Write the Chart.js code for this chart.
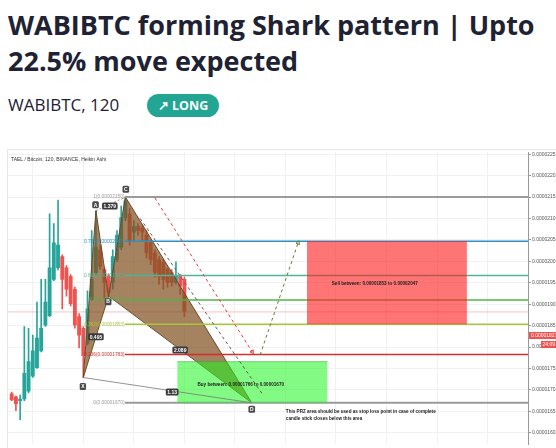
<!DOCTYPE html>
<html><head><meta charset="utf-8">
<script src="https://cdn.jsdelivr.net/npm/chart.js@4.4.0/dist/chart.umd.min.js"></script>
<style>
html,body{margin:0;padding:0;background:#fff;width:556px;height:448px;overflow:hidden}
body{position:relative;font-family:"Open Sans",sans-serif;color:#131722}
h1{position:absolute;left:8px;top:7px;margin:0;font-size:27px;line-height:36px;font-weight:700;white-space:nowrap;color:#1e2233}
.sub{position:absolute;left:8px;top:93px;font-size:17px;line-height:24px;color:#1e2233}
.pill{position:absolute;left:147px;top:94px;width:72px;height:23px;border-radius:12px;background:#22a592;color:#fff;font-size:12.5px;font-weight:700;line-height:23px;text-align:center}
#frame{position:absolute;left:7px;top:149px;width:600px;height:400px;border:1px solid #e6e6e6}
#wrap{position:absolute;left:0;top:148px;width:556px;height:300px}
</style></head><body>
<h1>WABIBTC forming Shark pattern | Upto<br>22.5% move expected</h1>
<div class="sub">WABIBTC, 120</div>
<div class="pill">&#8599; LONG</div>
<div id="frame"></div>
<div id="wrap"><canvas id="c"></canvas></div>
<script>
// prices in satoshi (1e-8 BTC), x in bar index
const candleOpen  = [1691,1684,1675,1679,1697,1732,1752,1791,1851,1873,1958,1985,2011,1985,1965,1935,1871,1844,1809,1912,1974,2027,1981,1965,1951,2004,2033,2102,2111,2068,2081,2077,2061,2043,2020,2004,1997,1981,1974,1951,1965,1958];
const candleHigh  = [1695,1686,1688,1848,1844,1828,1905,1958,1958,2111,2088,2143,2015,1990,1969,1940,1878,1848,1931,2072,2118,2038,1985,1969,2027,2072,2129,2150,2123,2095,2088,2084,2072,2049,2027,2011,2004,1985,1981,1999,1969,1963];
const candleLow   = [1675,1652,1631,1675,1693,1729,1750,1789,1848,1871,1955,1980,1889,1919,1896,1844,1798,1729,1805,1908,1969,1981,1912,1919,1935,1999,2027,2095,2038,2049,2061,2049,2008,1992,1963,1947,1935,1940,1942,1947,1923,1871];
const candleClose = [1677,1668,1679,1739,1766,1791,1821,1844,1905,1985,2043,2038,1958,1935,1901,1851,1828,1780,1889,1958,2033,1988,1951,1928,2011,2061,2102,2141,2049,2081,2072,2068,2020,2004,1974,1965,1958,1951,1951,1965,1942,1883];

const pointNames = ["X", "A", "B", "C", "D"];
const pointBar   = [18, 21, 24, 28, 58];
const pointPrice = [1729, 2118, 1919, 2150, 1670];

const fibLevels = ["1", "0.786", "0.618", "0.5", "0.382", "0.236", "0"];
const fibPrices = [2150, 2047, 1967, 1910, 1853, 1783, 1670];
const fibStart = 27.9, fibEnd = 123.6;

const sellZone = [1853, 2047], sellBars = [71.1, 109.1];
const buyZone = [1670, 1766], buyBars = [40.3, 76.0];
const lastPrice = 1827, priceLine = 1882;

const redArrow = [[35.0, 2148], [58.1, 1789]];
const grayDash = [[31.5, 2100], [60.7, 1688]];
const greenArrow = [[60.0, 1782], [69.0, 2043]];

const ratioText = ["1.379", "0.495", "2.089", "1.13"];
const ratioAt = [[24.3, 2129], [21.0, 1824], [41.0, 1793], [39.1, 1695]];
const nameAt = [[17.9, 1708], [20.9, 2132], [23.9, 1906], [28.1, 2168], [58.0, 1655]];

const fibColors = ["#9a9a9a", "#2f8fbf", "#4db699", "#52b548", "#a6c83a", "#d32f2f", "#9a9a9a"];
const UP = "#26a69a", DN = "#ef5350", BROWN = "rgba(130,82,34,0.72)", BROWN_EDGE = "#6b4a2c";

const fmt = v => (v / 1e8).toFixed(8);
const pt = i => ({ x: pointBar[i], y: pointPrice[i] });
const seg = a => a.map(p => ({ x: p[0], y: p[1] }));
const flat = { type: "line", pointRadius: 0, pointHoverRadius: 0, borderWidth: 1, tension: 0 };

const candleCol = candleOpen.map((o, i) => candleClose[i] >= o ? UP : DN);

function arrowHead(ctx) {
  const ds = ctx.chart.data.datasets[ctx.datasetIndex].data, sx = ctx.chart.scales.x, sy = ctx.chart.scales.y;
  const a = ds[0], b = ds[ds.length - 1];
  const ang = Math.atan2(sy.getPixelForValue(b.y) - sy.getPixelForValue(a.y), sx.getPixelForValue(b.x) - sx.getPixelForValue(a.x));
  return ang * 180 / Math.PI + 90;
}

const datasets = [
  { ...flat, data: [{ x: 0, y: priceLine }, { x: fibEnd, y: priceLine }], borderColor: "rgba(239,83,80,0.35)", order: 20 },
  { type: "bar", grouped: false, barThickness: 1, order: 12, backgroundColor: candleCol,
    data: candleLow.map((l, i) => ({ x: i + 1, y: [l, candleHigh[i]] })) },
  { type: "bar", grouped: false, barThickness: 3.2, order: 11, backgroundColor: candleCol,
    data: candleOpen.map((o, i) => ({ x: i + 1, y: [o, candleClose[i]] })) },
  { ...flat, data: [pt(0), pt(1), pt(2)], fill: "+1", backgroundColor: BROWN, borderColor: BROWN_EDGE, order: 8 },
  { ...flat, data: [pt(0), pt(2)], borderColor: BROWN_EDGE, order: 8 },
  { ...flat, data: [pt(2), pt(3), pt(4)], fill: "+1", backgroundColor: BROWN, borderColor: BROWN_EDGE, order: 8 },
  { ...flat, data: [pt(2), pt(4)], borderColor: BROWN_EDGE, order: 8 },
  ...fibPrices.map((p, i) => ({ ...flat, data: [{ x: fibStart, y: p }, { x: fibEnd, y: p }], borderColor: fibColors[i],
    borderWidth: (i === 0 || i === 6) ? 2 : 1.5, order: 6 })),
  { ...flat, data: [{ x: sellBars[0], y: sellZone[1] }, { x: sellBars[1], y: sellZone[1] }], fill: { value: sellZone[0] },
    backgroundColor: "rgba(255,25,25,0.6)", borderColor: "transparent", order: 5 },
  { ...flat, data: [{ x: buyBars[0], y: buyZone[1] }, { x: buyBars[1], y: buyZone[1] }], fill: { value: buyZone[0] },
    backgroundColor: "rgba(30,245,30,0.55)", borderColor: "rgba(60,170,60,0.6)", order: 5 },
  { ...flat, data: seg(redArrow), borderColor: "#e53935", borderDash: [3, 3], order: 4,
    pointRadius: [0, 2.2], pointStyle: "triangle", pointRotation: arrowHead, pointBorderColor: "#e53935", pointBackgroundColor: "rgba(0,0,0,0)" },
  { ...flat, data: seg(grayDash), borderColor: "#5a5a5a", borderDash: [3, 3], order: 4 },
  { ...flat, data: seg(greenArrow), borderColor: "#5e7d3a", borderDash: [3, 3], order: 4,
    pointRadius: [0, 2.2], pointStyle: "triangle", pointRotation: arrowHead, pointBorderColor: "#5e7d3a", pointBackgroundColor: "rgba(0,0,0,0)" },
  { ...flat, data: [pt(0), pt(4)], borderColor: "#777", borderWidth: 0.8, order: 3 },
  { ...flat, data: [pt(1), pt(3)], borderColor: "#777", borderWidth: 0.8, borderDash: [2, 2], order: 3 }
];

function box(ctx, cx, cy, text, bg, fg) {
  const w = ctx.measureText(text).width + 3, h = 7;
  ctx.fillStyle = bg; ctx.beginPath(); ctx.roundRect(cx - w / 2, cy - h / 2, w, h, 1.5); ctx.fill();
  ctx.fillStyle = fg; ctx.textAlign = "center"; ctx.textBaseline = "middle"; ctx.fillText(text, cx, cy + 0.4);
}

const notes = {
  id: "notes",
  afterDatasetsDraw(chart) {
    const { ctx, chartArea, scales: { x, y } } = chart;
    ctx.save();
    ctx.font = "5px 'Liberation Sans'"; ctx.fillStyle = "#333"; ctx.textAlign = "left"; ctx.textBaseline = "middle";
    ctx.fillText("TAEL / Bitcoin, 120, BINANCE, Heikin Ashi", chartArea.left + 3.5, chartArea.top + 8);
    // fib labels
    ctx.font = "4.8px 'Liberation Sans'"; ctx.textAlign = "right";
    fibPrices.forEach((p, i) => {
      ctx.fillStyle = fibColors[i];
      ctx.fillText(`${fibLevels[i]}(${fmt(p)})`, x.getPixelForValue(fibStart) - 0.5, y.getPixelForValue(p));
    });
    // zone texts
    ctx.font = "bold 4.6px 'Liberation Sans'"; ctx.fillStyle = "#222"; ctx.textAlign = "left";
    ctx.fillText(`Sell between: ${fmt(sellZone[0])} to ${fmt(sellZone[1])}`, x.getPixelForValue(77.0), y.getPixelForValue(1947));
    ctx.fillText(`Buy between: ${fmt(buyZone[1])} to ${fmt(buyZone[0])}`, x.getPixelForValue(45.1), y.getPixelForValue(1713));
    ctx.fillText("This PRZ area should be used as stop loss point in case of complete", x.getPixelForValue(66.1), y.getPixelForValue(1650));
    ctx.fillText("candle stick closes below this area", x.getPixelForValue(66.1), y.getPixelForValue(1634));
    // ratio + point tags
    ctx.font = "bold 5px 'Liberation Sans'";
    ratioText.forEach((t, i) => box(ctx, x.getPixelForValue(ratioAt[i][0]), y.getPixelForValue(ratioAt[i][1]), t, "#3a3a3a", "#fff"));
    pointNames.forEach((t, i) => box(ctx, x.getPixelForValue(nameAt[i][0]), y.getPixelForValue(nameAt[i][1]), t, "#4a4a4a", "#fff"));
    ctx.restore();
  },
  afterDraw(chart) {
    const { ctx, chartArea, width, scales: { y } } = chart;
    const py = y.getPixelForValue(lastPrice);
    ctx.save();
    ctx.fillStyle = DN; ctx.fillRect(chartArea.right + 1, py - 3.5, width - chartArea.right - 1, 7);
    ctx.fillRect(width - 15, py + 5.5, 15, 7);
    ctx.fillStyle = "#fff"; ctx.font = "5px 'Liberation Sans'"; ctx.textBaseline = "middle"; ctx.textAlign = "left";
    ctx.fillText(fmt(lastPrice), chartArea.right + 3, py);
    ctx.fillText("24:09", width - 13.5, py + 9);
    ctx.restore();
  }
};

new Chart(document.getElementById("c"), {
  type: "bar",
  data: { datasets },
  options: {
    responsive: true, maintainAspectRatio: false, animation: false, events: [],
    layout: { padding: { left: 7.5, top: 2, right: 0, bottom: 0 } },
    plugins: { legend: { display: false }, tooltip: { enabled: false } },
    scales: {
      x: { type: "linear", min: 0, max: fibEnd, offset: false,
        ticks: { display: false, stepSize: 12, includeBounds: false },
        grid: { color: "#f1f1f1", drawTicks: false }, border: { display: false },
        afterFit: s => { s.height = 0; } },
      y: { type: "linear", position: "right", min: 1574, max: 2255,
        ticks: { stepSize: 50, includeBounds: false, callback: v => fmt(v), font: { size: 5, family: "Liberation Sans" }, color: "#555", padding: 1 },
        grid: { color: "#f1f1f1", tickLength: 3, tickColor: "#999" }, border: { color: "#999" },
        afterFit: s => { s.width = 28; } }
    }
  },
  plugins: [notes]
});
</script></body></html>
